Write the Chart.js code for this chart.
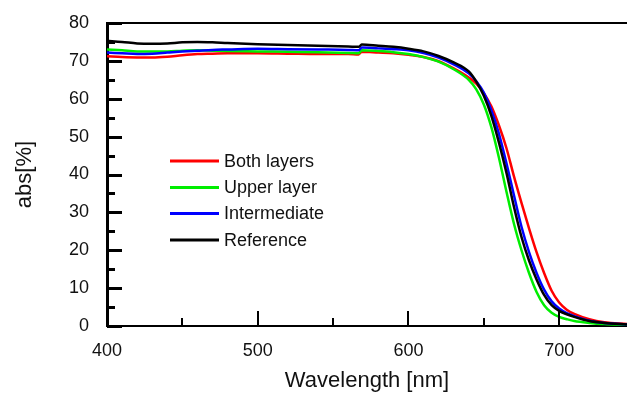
<!DOCTYPE html>
<html>
<head>
<meta charset="utf-8">
<script src="https://cdn.jsdelivr.net/npm/chart.js@4/dist/chart.umd.min.js"></script>
<style>
    html, body { margin: 0; padding: 0; background: #fff; }
    #wrap { width: 627px; height: 394px; }
</style>
</head>
<body>
<div id="wrap"><canvas id="absChart" width="627" height="394"></canvas></div>
<script>
// wavelength grid (nm)
const wavelengths = [400, 410, 420, 430, 440, 450, 460, 470, 480, 500, 520, 540, 560, 567, 569, 580, 590, 600, 610, 620, 630, 640, 645, 650, 655, 660, 665, 670, 675, 680, 685, 690, 695, 700, 705, 710, 720, 730, 745];

const bothLayers = [71.2, 71.0, 70.9, 70.9, 71.1, 71.5, 71.8, 71.9, 72.0, 72.0, 71.9, 71.8, 71.8, 71.7, 72.4, 72.2, 72.0, 71.6, 71.0, 69.9, 68.0, 65.6, 64.0, 61.5, 58.0, 53.0, 47.0, 39.5, 32.5, 25.8, 19.5, 14.0, 9.3, 6.2, 4.3, 3.2, 1.8, 1.0, 0.5];
const upperLayer = [73.0, 72.8, 72.5, 72.5, 72.5, 72.7, 72.8, 72.7, 72.6, 72.5, 72.4, 72.3, 72.1, 72.0, 72.8, 72.6, 72.3, 71.8, 71.0, 69.8, 67.8, 65.0, 62.5, 58.5, 52.5, 44.5, 35.5, 27.0, 20.0, 14.0, 9.0, 5.5, 3.5, 2.4, 1.8, 1.3, 0.8, 0.5, 0.3];
const intermediate = [72.2, 72.0, 71.8, 71.9, 72.2, 72.5, 72.7, 72.9, 73.0, 73.2, 73.1, 73.0, 72.9, 72.8, 73.5, 73.3, 73.1, 72.8, 72.1, 70.9, 69.1, 66.7, 64.6, 61.6, 57.0, 50.8, 43.0, 34.5, 26.2, 19.5, 14.0, 9.6, 6.5, 4.6, 3.4, 2.6, 1.4, 0.8, 0.4];
const reference = [75.3, 75.0, 74.6, 74.5, 74.6, 74.9, 75.0, 74.9, 74.7, 74.4, 74.2, 74.0, 73.8, 73.7, 74.3, 74.0, 73.7, 73.2, 72.5, 71.3, 69.6, 67.2, 64.5, 60.8, 55.5, 48.5, 40.5, 31.5, 23.5, 17.3, 12.3, 8.2, 5.5, 4.0, 3.1, 2.4, 1.3, 0.8, 0.4];

const seriesNames = ["Both layers", "Upper layer", "Intermediate", "Reference"];
const seriesColors = ["#ff0000", "#00ee00", "#0000ff", "#000000"];

const FONT = "'Liberation Sans', Arial, sans-serif";

function toPoints(values) {
    return wavelengths.map((w, i) => ({ x: w, y: values[i] }));
}

function noScalePadding(scale) {
    scale.paddingTop = 0;
    scale.paddingBottom = 0;
    scale.paddingLeft = 0;
    scale.paddingRight = 0;
}

// inward ticks, top frame line and the in-plot legend
const frameAndLegend = {
    id: "frameAndLegend",
    afterDatasetsDraw(chart) {
        const { ctx, chartArea, scales } = chart;
        ctx.save();
        ctx.strokeStyle = "#000";
        ctx.lineCap = "butt";

        // top frame line
        ctx.lineWidth = 2;
        ctx.beginPath();
        ctx.moveTo(chartArea.left, chartArea.top);
        ctx.lineTo(chartArea.right, chartArea.top);
        ctx.stroke();

        // y ticks (inside)
        ctx.lineWidth = 3;
        for (let v = 0; v <= 80; v += 5) {
            const y = Math.round(scales.y.getPixelForValue(v)) + 0.5;
            const len = v % 10 === 0 ? 15 : 8;
            ctx.beginPath();
            ctx.moveTo(chartArea.left, y);
            ctx.lineTo(chartArea.left + len, y);
            ctx.stroke();
        }
        // x ticks (inside)
        ctx.lineWidth = 2;
        for (let w = 450; w <= 700; w += 50) {
            const x = Math.round(scales.x.getPixelForValue(w));
            const len = w % 100 === 0 ? 15 : 8;
            ctx.beginPath();
            ctx.moveTo(x, chartArea.bottom);
            ctx.lineTo(x, chartArea.bottom - len);
            ctx.stroke();
        }

        // legend
        const rows = [161, 187.5, 213.5, 240];
        ctx.font = "18px " + FONT;
        ctx.textBaseline = "middle";
        ctx.textAlign = "left";
        chart.data.datasets.forEach((ds, i) => {
            ctx.strokeStyle = ds.borderColor;
            ctx.lineWidth = 3;
            ctx.beginPath();
            ctx.moveTo(170, rows[i]);
            ctx.lineTo(219, rows[i]);
            ctx.stroke();
            ctx.fillStyle = "#111";
            ctx.fillText(ds.label, 224, rows[i] + 1);
        });
        ctx.restore();
    },
};

const datasets = seriesNames.map((name, i) => ({
    label: name,
    data: toPoints([bothLayers, upperLayer, intermediate, reference][i]),
    borderColor: seriesColors[i],
    backgroundColor: seriesColors[i],
    borderWidth: 2.5,
    pointRadius: 0,
    showLine: true,
    cubicInterpolationMode: "monotone",
    order: 3 - i,
}));

new Chart(document.getElementById("absChart"), {
    type: "scatter",
    data: { datasets },
    options: {
        responsive: false,
        animation: false,
        layout: { padding: { top: 23, right: 0, left: 0, bottom: 0 } },
        plugins: {
            legend: { display: false },
            tooltip: { enabled: false },
        },
        scales: {
            x: {
                type: "linear",
                min: 400,
                max: 745,
                afterFit: (scale) => { scale.height = 68; noScalePadding(scale); },
                ticks: {
                    stepSize: 100,
                    padding: 14,
                    color: "#111",
                    font: { family: FONT, size: 18 },
                    callback: (v) => (v % 100 === 0 ? String(v) : ""),
                },
                afterBuildTicks: (scale) => {
                    scale.ticks = [400, 500, 600, 700].map((v) => ({ value: v }));
                },
                grid: { display: true, drawOnChartArea: false, drawTicks: false },
                border: { display: true, color: "#000", width: 2 },
                title: {
                    display: true,
                    text: "Wavelength [nm]",
                    color: "#111",
                    font: { family: FONT, size: 22 },
                    padding: { top: 0, bottom: 0 },
                },
            },
            y: {
                type: "linear",
                min: 0,
                max: 80,
                afterFit: (scale) => { scale.width = 107; noScalePadding(scale); },
                ticks: {
                    stepSize: 10,
                    padding: 18,
                    color: "#111",
                    font: { family: FONT, size: 18 },
                },
                grid: { display: true, drawOnChartArea: false, drawTicks: false },
                border: { display: true, color: "#000", width: 3 },
                title: {
                    display: true,
                    text: "abs[%]",
                    color: "#111",
                    font: { family: FONT, size: 22 },
                    padding: { top: 12, bottom: 0 },
                },
            },
        },
    },
    plugins: [frameAndLegend],
});
</script>
</body>
</html>
